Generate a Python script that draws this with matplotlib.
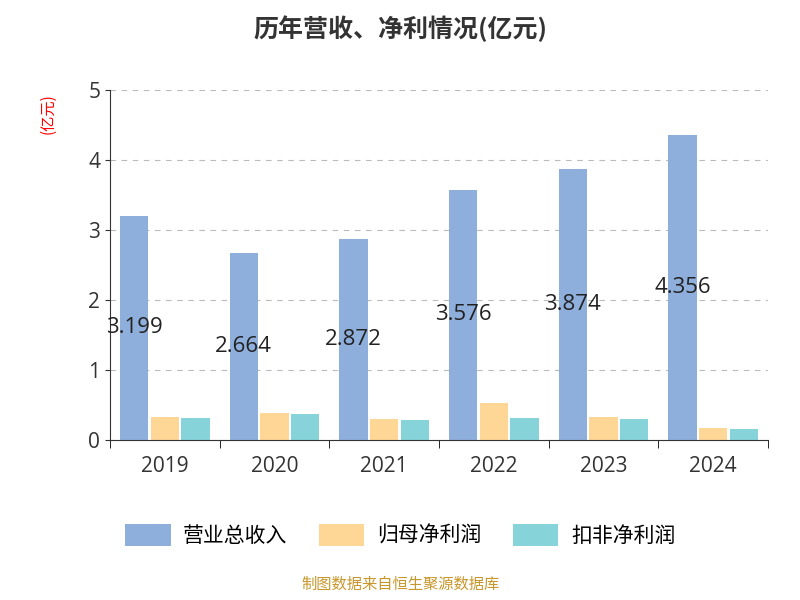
import matplotlib.pyplot as plt
import numpy as np

plt.rcParams['font.family'] = ['Noto Sans CJK SC', 'DejaVu Sans']

years = ['2019', '2020', '2021', '2022', '2023', '2024']
revenue = [3.199, 2.664, 2.872, 3.576, 3.874, 4.356]
net_profit = [0.33, 0.39, 0.30, 0.52, 0.33, 0.17]
net_profit_deducted = [0.31, 0.37, 0.28, 0.31, 0.30, 0.15]

fig = plt.figure(figsize=(8, 6), dpi=100)
ax = fig.add_axes([0.1375, 0.267, 0.8225, 0.583])

x = np.arange(len(years))
w = 0.26
ax.bar(x - w - 0.02, revenue, w, color='#8eaedb', label='营业总收入')
ax.bar(x, net_profit, w, color='#fed797', label='归母净利润')
ax.bar(x + w + 0.02, net_profit_deducted, w, color='#86d4d9', label='扣非净利润')

for xi, v in zip(x, revenue):
    ax.text(xi - w - 0.02, v / 2, f'{v:.3f}', ha='center', va='center', fontsize=16,
            color='#222222', family='Open Sans')

ax.set_xlim(-0.5, len(years) - 0.5)
ax.set_ylim(0, 5)
ax.set_yticks(range(6))
ax.set_xticks(x)
ax.set_xticklabels(years, family='Open Sans')
ax.set_yticklabels([str(i) for i in range(6)], family='Open Sans')
ax.tick_params(labelsize=15, colors='#333333')
ax.tick_params(axis='x', pad=12)
for s in ['top', 'right']:
    ax.spines[s].set_visible(False)
ax.spines['left'].set_color('#333333')
ax.spines['bottom'].set_color('#333333')
ax.yaxis.grid(True, linestyle=(0, (5, 5)), color='#bbbbbb')
ax.set_axisbelow(True)
ax.set_xticks(np.arange(-0.5, len(years)), minor=True)
ax.tick_params(axis='x', which='major', length=0)
ax.tick_params(axis='x', which='minor', length=6)

fig.text(0.06, 0.81, '(亿元)', rotation=90, color='red', fontsize=11, ha='center', va='center')
fig.suptitle('历年营收、净利情况(亿元)', y=0.975, fontsize=18, fontweight='bold', color='#333333')
fig.legend(loc='center', bbox_to_anchor=(0.5, 0.108), ncol=3, fontsize=15, frameon=False,
           handlelength=2.2, handleheight=1.3, columnspacing=1.5, handletextpad=0.6)
fig.text(0.5, 0.018, '制图数据来自恒生聚源数据库', ha='center', color='#c8962a', fontsize=11)

fig.savefig('out.png')
